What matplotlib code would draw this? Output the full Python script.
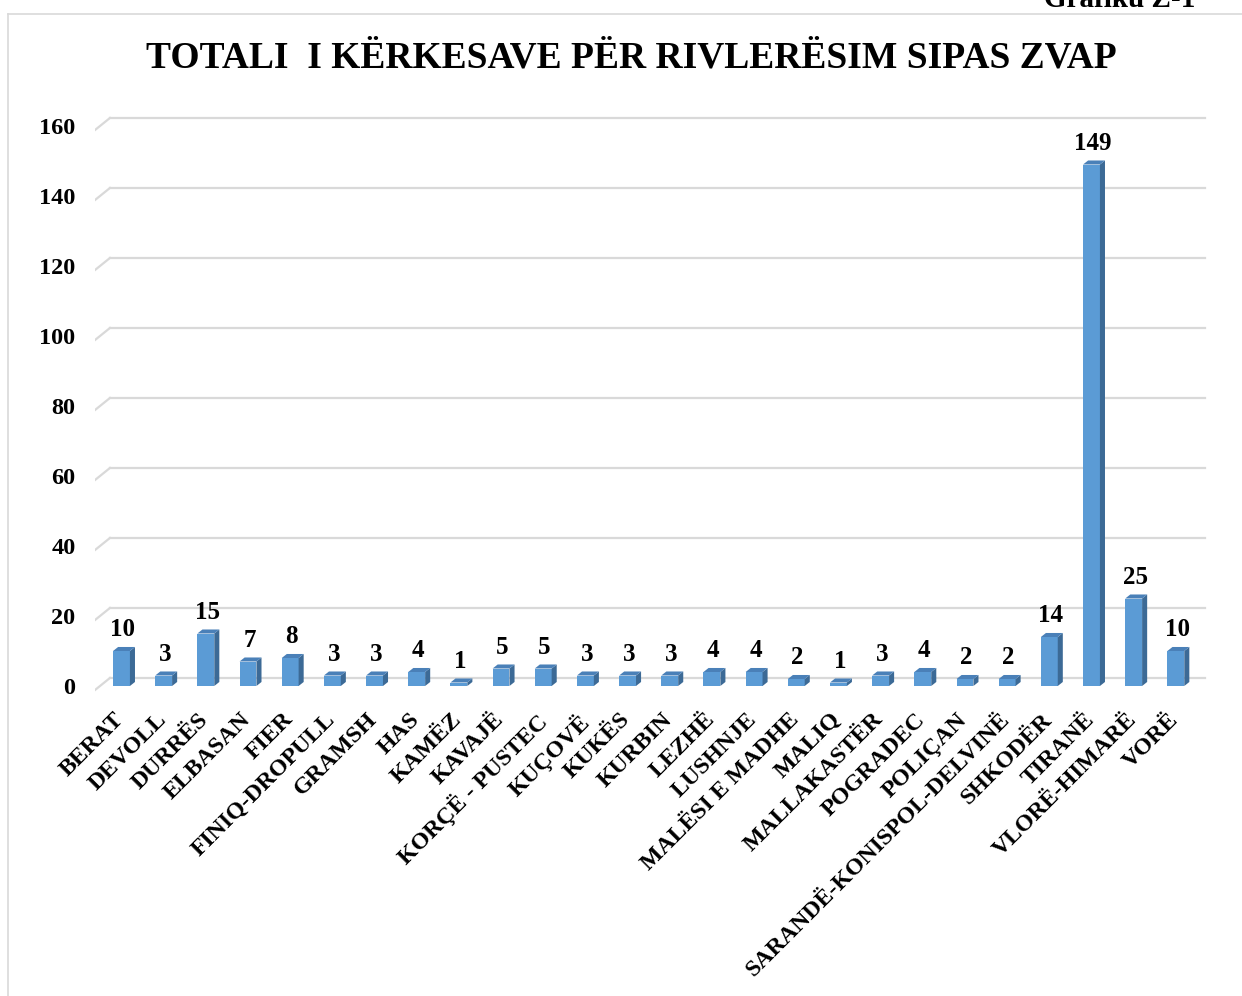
import matplotlib
matplotlib.use("Agg")
import matplotlib.pyplot as plt
from matplotlib.patches import Polygon
from matplotlib.lines import Line2D
from matplotlib.transforms import ScaledTranslation

plt.rcParams['font.family'] = ['Liberation Serif', 'DejaVu Serif']
plt.rcParams['font.weight'] = 'bold'

# kerkesat per rivleresim, sipas zyres vendore
zvap = ['BERAT', 'DEVOLL', 'DURRËS', 'ELBASAN', 'FIER', 'FINIQ-DROPULL',
        'GRAMSH', 'HAS', 'KAMËZ', 'KAVAJË', 'KORÇË - PUSTEC', 'KUÇOVË',
        'KUKËS', 'KURBIN', 'LEZHË', 'LUSHNJE', 'MALËSI E MADHE', 'MALIQ',
        'MALLAKASTËR', 'POGRADEC', 'POLIÇAN', 'SARANDË-KONISPOL-DELVINË',
        'SHKODËR', 'TIRANË', 'VLORË-HIMARË', 'VORË']
kerkesa = [10, 3, 15, 7, 8, 3, 3, 4, 1, 5, 5, 3, 3, 3, 4, 4, 2, 1, 3, 4,
           2, 2, 14, 149, 25, 10]
yticks = [0, 20, 40, 60, 80, 100, 120, 140, 160]

title = 'TOTALI  I KËRKESAVE PËR RIVLERËSIM SIPAS ZVAP'

fig = plt.figure(figsize=(12.42, 9.96), dpi=100)

# chart frame
fig.add_artist(Line2D([8/1242, 1.0], [1 - 14/996, 1 - 14/996],
                      transform=fig.transFigure, color='#d9d9d9', lw=1.2))
fig.add_artist(Line2D([8/1242, 8/1242], [0.0, 1 - 14/996],
                      transform=fig.transFigure, color='#d9d9d9', lw=1.2))

fig.text(1195/1242, 1 - 7/996, 'Grafiku Z-1', ha='right', va='baseline',
         fontsize=21, fontweight='bold')
fig.text(631/1242, 1 - 58/996, title, ha='center', va='center',
         fontsize=27, fontweight='bold')

# px per category ~42.2, first bar centred at x=121.5 px
ax = fig.add_axes([95/1242, (996 - 696.5)/996, 1115/1242, 588/996])
ax.set_xlim(-0.628, 25.81)
ax.set_ylim(-3, 165)
for s in ax.spines.values():
    s.set_visible(False)
ax.patch.set_visible(False)

# 3d-looking grid: short diagonal at the left, line along the back wall
grid_c = '#d9d9d9'
xl, xb, xr = -0.628, -0.273, 25.68
for v in yticks:
    ax.plot([xl, xb], [v - 1.15, v + 2.3], color=grid_c, lw=1.6, zorder=0)
    ax.plot([xb, xr], [v + 2.3, v + 2.3], color=grid_c, lw=1.6, zorder=0)

x = list(range(len(zvap)))
w = 0.40
dx, dy = 0.12, 1.15
ax.bar(x, kerkesa, width=w, color='#5b9bd5', zorder=3)
for i, v in zip(x, kerkesa):
    l, r = i - w/2, i + w/2
    side = Polygon([(r, 0), (r + dx, dy), (r + dx, v + dy), (r, v)],
                   closed=True, facecolor='#3c6a96', edgecolor='none', zorder=3)
    top = Polygon([(l, v), (l + dx, v + dy), (r + dx, v + dy), (r, v)],
                  closed=True, facecolor='#4a80b8', edgecolor='none', zorder=3)
    ax.add_patch(side)
    ax.add_patch(top)
    ax.annotate(str(v), (i, v), xytext=(1, 10.5), textcoords='offset points',
                ha='center', va='baseline', fontsize=18, fontweight='bold')

ax.set_yticks(yticks)
ax.set_yticklabels([str(t) for t in yticks], fontsize=17.5, fontweight='bold')
ax.set_xticks(x)
ax.set_xticklabels(zvap, rotation=45, ha='right', rotation_mode='anchor',
                   fontsize=17.2, fontweight='bold')
ax.tick_params(axis='y', length=0, pad=14)
ax.tick_params(axis='x', length=0, pad=4)
shift = ScaledTranslation(-0.08, -0.07, fig.dpi_scale_trans)
for lab in ax.get_xticklabels():
    lab.set_transform(lab.get_transform() + shift)

fig.savefig('out.png', dpi=100)
